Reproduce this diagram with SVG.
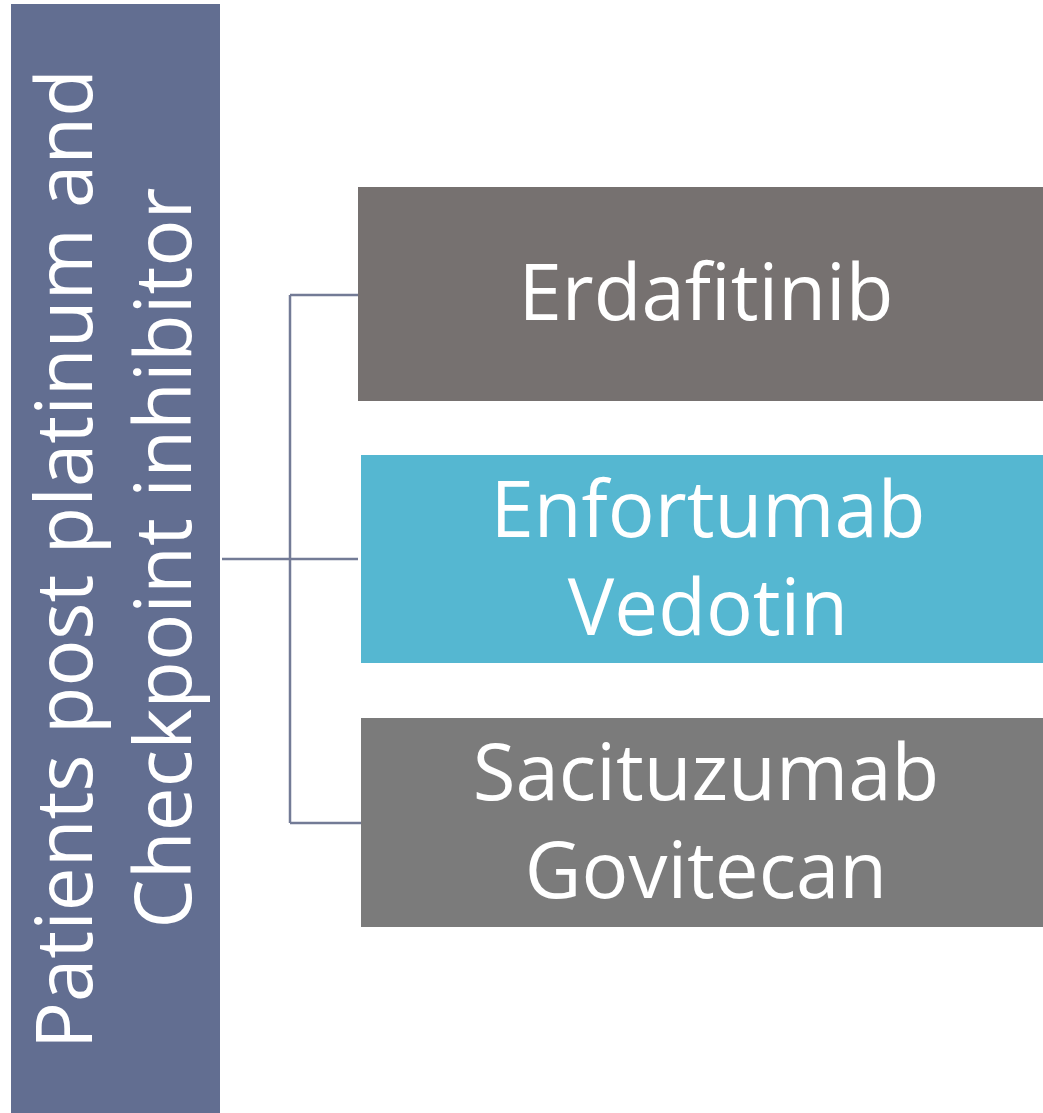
<svg xmlns="http://www.w3.org/2000/svg" width="1043" height="1113" viewBox="0 0 1043 1113">
<style>
.t{font-family:"Open Sans","Noto Sans","Liberation Sans",sans-serif;fill:#ffffff;font-size:78px;text-anchor:middle}
.c{stroke:#737b96;stroke-width:2.5;fill:none}
</style>
<rect width="1043" height="1113" fill="#ffffff"/>
<g id="connectors">
<path class="c" d="M222 559H358"/>
<path class="c" d="M290 295V823"/>
<path class="c" d="M290 295H358"/>
<path class="c" d="M290 823H361"/>
</g>
<g id="root">
<rect x="11" y="4" width="209" height="1109" fill="#626e91"/>
<text class="t" transform="translate(92 559) rotate(-90)" x="0" y="0">Patients post platinum and</text>
<text class="t" transform="translate(191 558) rotate(-90)" x="0" y="0" textLength="741" lengthAdjust="spacing">Checkpoint inhibitor</text>
</g>
<g id="erdafitinib">
<rect x="358" y="187" width="685" height="214" fill="#767170"/>
<text class="t" x="706" y="320">Erdafitinib</text>
</g>
<g id="enfortumab">
<rect x="361" y="455" width="682" height="208" fill="#55b7d1"/>
<text class="t" x="708" y="537">Enfortumab</text>
<text class="t" x="708" y="635">Vedotin</text>
</g>
<g id="sacituzumab">
<rect x="361" y="718" width="682" height="209" fill="#7b7b7b"/>
<text class="t" x="706" y="800">Sacituzumab</text>
<text class="t" x="706" y="898">Govitecan</text>
</g>
</svg>
